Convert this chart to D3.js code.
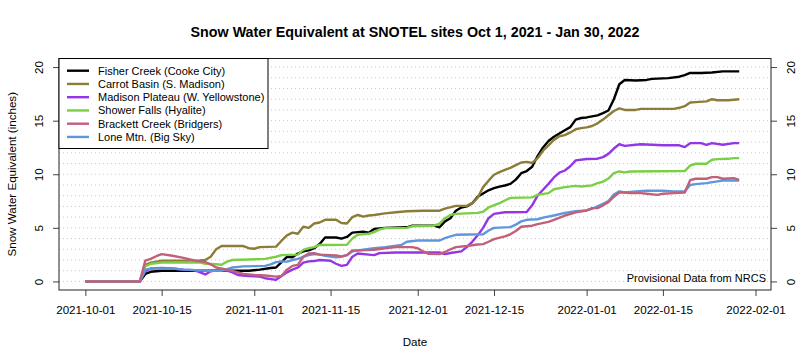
<!DOCTYPE html>
<html>
<head>
<meta charset="utf-8">
<script src="https://cdn.jsdelivr.net/npm/d3@7"></script>
<style>
  body { margin: 0; background: #fff; }
  svg { display: block; font-family: "Liberation Sans", Arial, Helvetica, sans-serif; }
</style>
</head>
<body>
<svg id="chart" width="802" height="364"></svg>
<script>
// ---------------- DATA ----------------
const titleText = "Snow Water Equivalent at SNOTEL sites Oct 1, 2021 - Jan 30, 2022";
const startDate = "2021-10-01";
const endDate = "2022-01-30";
const siteNames = [
  "Fisher Creek (Cooke City)",
  "Carrot Basin (S. Madison)",
  "Madison Plateau (W. Yellowstone)",
  "Shower Falls (Hyalite)",
  "Brackett Creek (Bridgers)",
  "Lone Mtn. (Big Sky)"
];
// [days since Oct 1, 2021, SWE inches]
const fisherCreek = [[0,0],[10,0],[11,0.7],[12,0.9],[14,1.0],[30,1.0],[32,1.1],[34,1.25],[35,1.3],[36,1.8],[37,2.3],[38,2.25],[39,2.6],[40,2.8],[41,2.9],[42,3.1],[43,3.5],[44,4.1],[46,4.1],[47,4.0],[48,4.15],[49,4.55],[51,4.65],[52,4.55],[53,4.9],[55,5.0],[59,5.05],[60,5.2],[64,5.2],[65,5.05],[66,5.6],[67,5.9],[68,6.6],[69,6.9],[70,7.0],[71,7.3],[72,7.9],[73,8.2],[74,8.5],[75,8.7],[76,8.85],[77,8.95],[78,9.1],[79,9.5],[80,10.1],[81,10.3],[82,10.7],[83,11.7],[84,12.5],[85,13.1],[86,13.5],[87,13.8],[88,14.1],[89,14.4],[90,15.1],[91,15.25],[92,15.3],[93,15.4],[94,15.5],[95,15.7],[96,15.95],[97,17.0],[98,18.4],[99,18.8],[101,18.75],[103,18.8],[104,18.9],[107,18.97],[109,19.1],[110,19.25],[111,19.45],[113,19.45],[115,19.5],[117,19.6],[120,19.6]];
const carrotBasin = [[0,0],[10,0],[11,1.55],[12,1.75],[14,1.93],[21,1.95],[22,2.0],[23,2.3],[24,3.0],[25,3.3],[29,3.3],[30,3.1],[31,3.05],[32,3.2],[35,3.25],[36,3.8],[37,4.3],[38,4.55],[39,4.45],[40,5.1],[41,5.0],[42,5.4],[43,5.5],[44,5.75],[46,5.75],[47,5.45],[48,5.4],[49,6.0],[50,6.2],[51,6.05],[52,6.15],[53,6.2],[55,6.35],[57,6.45],[59,6.55],[62,6.6],[65,6.6],[66,6.8],[68,7.05],[70,7.05],[71,7.3],[72,7.8],[73,8.8],[74,9.4],[75,9.95],[76,10.2],[77,10.4],[78,10.6],[79,10.85],[80,11.1],[81,11.15],[82,11.05],[83,11.5],[84,12.2],[85,12.7],[86,13.2],[87,13.55],[88,13.65],[89,13.9],[90,14.2],[91,14.3],[92,14.37],[93,14.5],[94,14.75],[95,15.1],[96,15.5],[97,15.9],[98,16.15],[99,16.0],[101,16.0],[102,16.1],[108,16.1],[109,16.2],[110,16.35],[111,16.7],[112,16.73],[114,16.8],[115,17.0],[116,16.9],[118,16.9],[119,16.95],[120,17.0]];
const madisonPlateau = [[0,0],[10,0],[11,0.95],[12,1.2],[14,1.25],[16,1.2],[18,1.1],[20,1.05],[22,0.65],[23,0.95],[24,1.05],[26,1.0],[27,0.85],[28,0.6],[30,0.5],[32,0.45],[33,0.3],[35,0.15],[36,0.5],[37,0.85],[38,1.1],[39,1.3],[40,1.75],[41,1.87],[42,1.9],[43,2.0],[45,1.93],[46,1.65],[47,1.45],[48,1.55],[49,2.3],[50,2.6],[52,2.5],[53,2.45],[54,2.64],[57,2.7],[65,2.7],[66,2.55],[67,2.65],[69,2.8],[70,3.2],[71,3.7],[72,4.3],[73,5.0],[74,5.9],[75,6.3],[77,6.45],[81,6.47],[82,7.1],[83,8.0],[84,8.55],[85,9.1],[86,9.7],[87,10.15],[88,10.35],[89,10.75],[90,11.3],[92,11.42],[94,11.45],[95,11.6],[96,11.9],[97,12.4],[98,12.8],[99,12.65],[101,12.75],[102,12.8],[104,12.75],[106,12.7],[109,12.7],[110,12.53],[111,12.9],[113,12.9],[114,12.75],[115,12.9],[117,12.75],[119,12.9],[120,12.9]];
const showerFalls = [[0,0],[10,0],[11,1.4],[12,1.65],[14,1.77],[21,1.77],[22,1.65],[24,1.6],[25,1.55],[26,1.85],[27,2.0],[33,2.1],[35,2.3],[36,2.45],[39,2.5],[40,2.95],[41,3.1],[42,3.2],[43,3.4],[48,3.42],[49,4.0],[50,4.35],[52,4.45],[53,4.6],[54,4.85],[55,4.97],[59,5.0],[60,5.15],[64,5.2],[65,5.4],[66,5.9],[67,6.2],[68,6.3],[72,6.4],[73,6.5],[74,6.9],[76,7.3],[77,7.55],[78,7.8],[82,7.84],[83,8.08],[85,8.24],[86,8.6],[88,8.8],[90,8.92],[91,8.86],[93,8.96],[94,9.17],[95,9.3],[96,9.6],[97,10.1],[98,10.26],[99,10.17],[100,10.26],[110,10.3],[111,10.8],[112,10.98],[114,10.98],[115,11.35],[116,11.41],[118,11.44],[119,11.5],[120,11.5]];
const brackettCreek = [[0,0],[10,0],[11,1.95],[12,2.1],[13,2.35],[14,2.55],[16,2.4],[18,2.2],[20,1.95],[22,1.8],[23,1.6],[24,1.3],[26,1.1],[28,0.85],[29,0.7],[31,0.6],[33,0.55],[35,0.45],[36,0.5],[37,1.1],[38,1.45],[39,1.55],[40,2.3],[41,2.6],[42,2.64],[43,2.5],[46,2.43],[47,2.33],[48,2.45],[49,2.9],[52,2.92],[53,2.95],[55,3.1],[57,3.2],[60,3.2],[61,3.1],[62,2.8],[63,2.58],[65,2.55],[66,2.75],[67,3.0],[68,3.2],[70,3.3],[72,3.45],[73,3.48],[74,3.7],[75,3.95],[77,4.2],[78,4.4],[79,4.7],[80,5.1],[81,5.15],[82,5.2],[83,5.35],[85,5.55],[86,5.75],[88,6.15],[90,6.45],[92,6.62],[93,6.84],[94,6.84],[95,7.1],[96,7.4],[97,7.9],[98,8.3],[99,8.3],[100,8.24],[102,8.24],[103,8.18],[105,8.08],[106,8.18],[108,8.24],[110,8.3],[111,9.45],[112,9.58],[114,9.58],[115,9.73],[116,9.73],[117,9.58],[119,9.64],[120,9.48]];
const loneMtn = [[0,0],[10,0],[11,1.1],[12,1.2],[16,1.2],[18,1.1],[20,1.05],[22,1.0],[25,1.0],[26,1.15],[27,1.3],[29,1.4],[33,1.45],[34,1.6],[35,1.8],[36,1.87],[37,1.85],[38,2.0],[39,2.1],[40,2.3],[41,2.45],[42,2.55],[43,2.5],[44,2.4],[45,2.33],[46,2.24],[47,2.3],[48,2.45],[49,2.8],[51,2.95],[53,3.1],[55,3.2],[57,3.33],[58,3.4],[59,3.7],[61,3.82],[65,3.82],[66,4.04],[67,4.2],[68,4.35],[73,4.4],[74,4.75],[75,5.0],[78,5.07],[79,5.3],[80,5.6],[81,5.75],[83,5.8],[84,5.95],[86,6.15],[88,6.4],[90,6.55],[92,6.62],[93,6.78],[94,7.0],[95,7.25],[96,7.5],[97,8.1],[98,8.4],[99,8.3],[101,8.4],[103,8.46],[106,8.46],[108,8.4],[110,8.4],[111,9.0],[112,9.08],[114,9.17],[116,9.33],[117,9.42],[120,9.42]];
const seriesData = [fisherCreek, carrotBasin, madisonPlateau, showerFalls, brackettCreek, loneMtn];
const xTickLabels = ["2021-10-01","2021-10-15","2021-11-01","2021-11-15","2021-12-01","2021-12-15","2022-01-01","2022-01-15","2022-02-01"];
const yTicks = [0, 5, 10, 15, 20];
const yGrid = d3.range(0, 21, 1);
const yLimits = [0, 20];
const noteText = "Provisional Data from NRCS";

// ---------------- STYLE ----------------
const colors = ["#000000", "#8B7D38", "#9236E8", "#7ACF45", "#C2607A", "#5E98DC"];
const drawOrder = [0, 1, 2, 3, 5, 4];

// ---------------- CHART ----------------
const svg = d3.select("#chart");
const box = { left: 59, right: 771, top: 58.5, bottom: 290 };

const parse = d3.utcParse("%Y-%m-%d");
const t0 = parse(startDate), t1 = parse(endDate);
const span = t1 - t0;
const x = d3.scaleUtc()
  .domain([new Date(+t0 - 0.04 * span), new Date(+t1 + 0.04 * span)])
  .range([box.left, box.right]);
const yPad = 0.04 * (yLimits[1] - yLimits[0]);
const y = d3.scaleLinear()
  .domain([yLimits[0] - yPad, yLimits[1] + yPad])
  .range([box.bottom, box.top]);

const dayToDate = d => d3.utcDay.offset(t0, d);

// grid
svg.append("g").selectAll("line").data(yGrid).join("line")
  .attr("x1", box.left).attr("x2", box.right)
  .attr("y1", d => y(d)).attr("y2", d => y(d))
  .attr("stroke", "#c8c8c8").attr("stroke-width", 1)
  .attr("stroke-dasharray", "1,3");

// lines
const line = d3.line().x(d => x(dayToDate(d[0]))).y(d => y(d[1]));
const gl = svg.append("g");
drawOrder.forEach(i => {
  gl.append("path").datum(seriesData[i])
    .attr("d", line)
    .attr("fill", "none")
    .attr("stroke", colors[i])
    .attr("stroke-width", 2.4)
    .attr("stroke-linejoin", "round")
    .attr("stroke-linecap", "butt");
});

// axes
const fontSize = 11.6;
const ff = "Liberation Sans, Arial, sans-serif";
const xAxis = d3.axisBottom(x)
  .tickValues(xTickLabels.map(parse))
  .tickFormat(d3.utcFormat("%Y-%m-%d"))
  .tickSize(6).tickPadding(10);
const gx = svg.append("g").attr("transform", `translate(0,${box.bottom})`).call(xAxis);
gx.select(".domain").remove();
gx.selectAll("line").attr("stroke", "#444");
gx.selectAll("text").attr("font-size", fontSize).attr("fill", "#000").attr("font-family", ff);

const yAxisL = d3.axisLeft(y).tickValues(yTicks).tickSize(6).tickFormat(d3.format("d"));
const gyl = svg.append("g").attr("transform", `translate(${box.left},0)`).call(yAxisL);
gyl.select(".domain").remove();
gyl.selectAll("line").attr("stroke", "#444");
gyl.selectAll("text")
  .attr("font-size", fontSize).attr("fill", "#000").attr("font-family", ff)
  .attr("x", null).attr("dy", null)
  .attr("text-anchor", "middle")
  .attr("dominant-baseline", "central")
  .attr("transform", `translate(-21,0) rotate(-90)`);

const yAxisR = d3.axisRight(y).tickValues(yTicks).tickSize(6).tickFormat(d3.format("d"));
const gyr = svg.append("g").attr("transform", `translate(${box.right},0)`).call(yAxisR);
gyr.select(".domain").remove();
gyr.selectAll("line").attr("stroke", "#444");
gyr.selectAll("text")
  .attr("font-size", fontSize).attr("fill", "#000").attr("font-family", ff)
  .attr("x", null).attr("dy", null)
  .attr("text-anchor", "middle")
  .attr("dominant-baseline", "central")
  .attr("transform", `translate(19,0) rotate(-90)`);

// box
svg.append("rect")
  .attr("x", box.left).attr("y", box.top)
  .attr("width", box.right - box.left).attr("height", box.bottom - box.top)
  .attr("fill", "none").attr("stroke", "#222").attr("stroke-width", 1);

// title
svg.append("text")
  .attr("x", (box.left + box.right) / 2).attr("y", 37)
  .attr("text-anchor", "middle")
  .attr("font-size", 14.3).attr("font-weight", "bold")
  .text(titleText);

// axis titles
svg.append("text")
  .attr("x", (box.left + box.right) / 2).attr("y", 346)
  .attr("text-anchor", "middle").attr("font-size", fontSize)
  .text("Date");
svg.append("text")
  .attr("transform", `translate(11,${(box.top + box.bottom) / 2}) rotate(-90)`)
  .attr("text-anchor", "middle").attr("dominant-baseline", "central")
  .attr("font-size", fontSize)
  .text("Snow Water Equivalent (inches)");

// note
svg.append("text")
  .attr("x", 766).attr("y", 282)
  .attr("text-anchor", "end").attr("font-size", 11)
  .text(noteText);

// legend
const lg = svg.append("g");
lg.append("rect")
  .attr("x", box.left).attr("y", box.top)
  .attr("width", 209).attr("height", 90)
  .attr("fill", "#fff").attr("stroke", "#000").attr("stroke-width", 1);
siteNames.forEach((name, i) => {
  const ly = 70.7 + i * 13.25;
  lg.append("line")
    .attr("x1", 67).attr("x2", 89).attr("y1", ly).attr("y2", ly)
    .attr("stroke", colors[i]).attr("stroke-width", 2.4);
  lg.append("text")
    .attr("x", 98).attr("y", ly).attr("dominant-baseline", "central")
    .attr("font-size", 11).text(name);
});
</script>
</body>
</html>
